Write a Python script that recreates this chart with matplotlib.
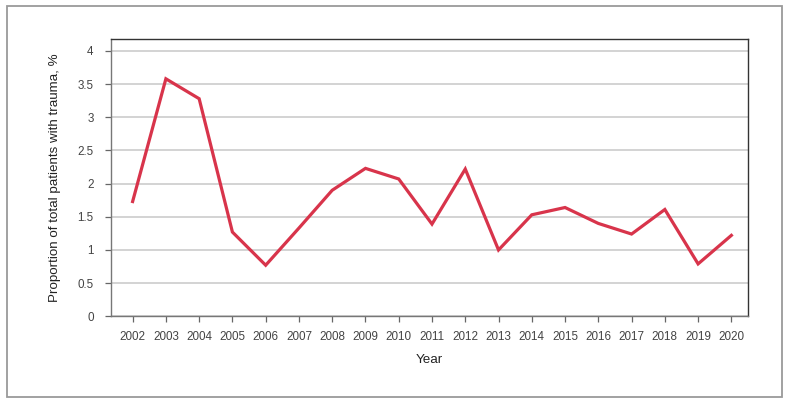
import matplotlib
matplotlib.use("Agg")
import matplotlib.pyplot as plt
from matplotlib.patches import Rectangle

years = list(range(2002, 2021))
values = [1.73, 3.58, 3.28, 1.27, 0.77, 1.33, 1.90, 2.23, 2.07, 1.39, 2.22,
          1.00, 1.53, 1.64, 1.40, 1.24, 1.61, 0.79, 1.22]
yticks = [0, 0.5, 1, 1.5, 2, 2.5, 3, 3.5, 4]
ytick_labels = ["0", "0.5", "1", "1.5", "2", "2.5", "3", "3.5", "4"]

plt.rcParams['font.family'] = ['Liberation Sans', 'DejaVu Sans']

fig = plt.figure(figsize=(7.9, 4.05), dpi=100)
ax = fig.add_axes([111/790, 1 - 316.3/405, (748-111)/790, (316.3-39)/405])

ax.plot(years, values, color="#d8344b", linewidth=2.3, solid_joinstyle="miter", zorder=3)

ax.set_xlim(2001.35, 2020.5)
ax.set_ylim(0, 4.18)
ax.set_yticks(yticks)
ax.set_yticklabels(ytick_labels)
ax.set_xticks(years)
ax.set_xticklabels([str(y) for y in years])

ax.yaxis.grid(True, color="#c8c8c8", linewidth=1.1)
ax.set_axisbelow(True)

for s in ax.spines.values():
    s.set_color("#333333")
    s.set_linewidth(1.0)
ax.spines['left'].set_color("#777777")
ax.spines['bottom'].set_color("#777777")

ax.tick_params(axis='both', colors="#666666", labelcolor="#444444", labelsize=8.4,
               length=4.5, width=0.9, direction='out')
ax.tick_params(axis='y', pad=8)
ax.tick_params(axis='x', pad=6)

ax.set_xlabel("Year", fontsize=9.6, color="#222222", labelpad=8)
ax.set_ylabel("Proportion of total patients with trauma, %", fontsize=9.6,
              color="#222222", labelpad=12)

fig.patches.append(Rectangle((7/790, 1 - 397/405), (782-7)/790, (397-6)/405,
                             transform=fig.transFigure, fill=False,
                             edgecolor="#9a9a9a", linewidth=1.3))

fig.savefig("out.png", dpi=100)
